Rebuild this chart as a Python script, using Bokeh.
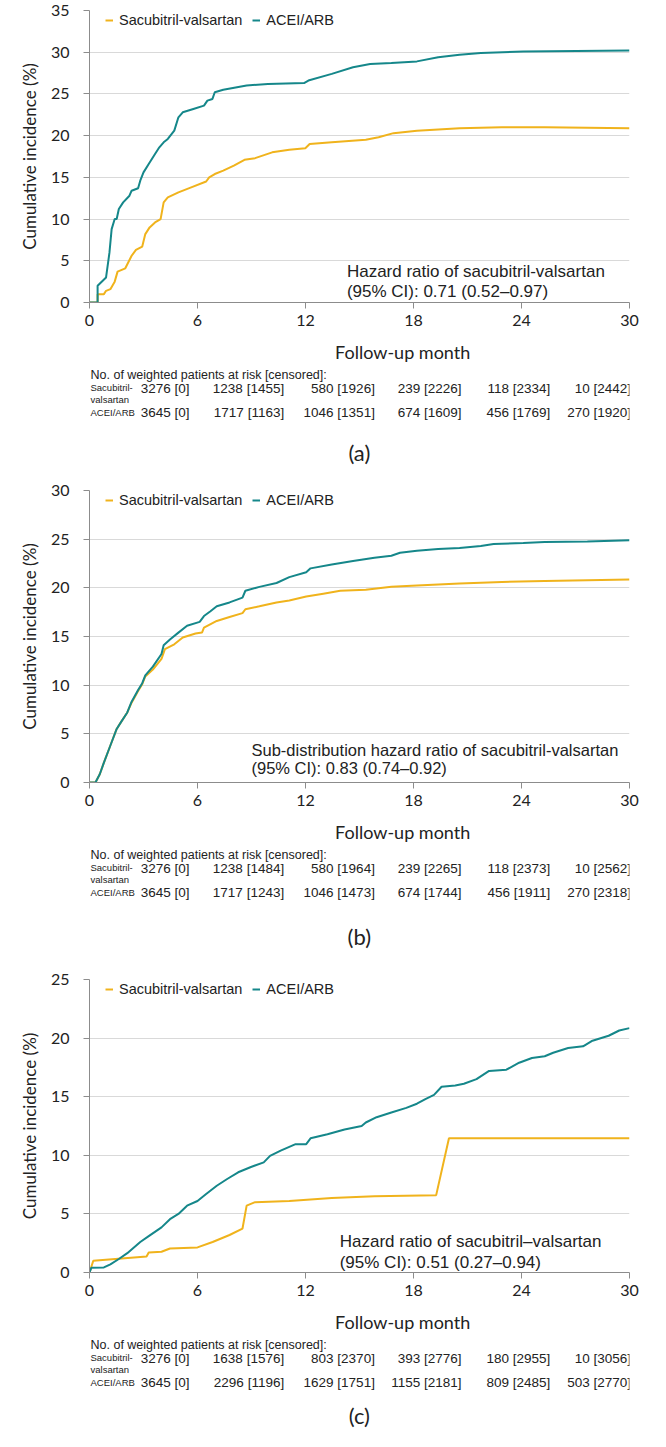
from bokeh.plotting import figure
from bokeh.models import Range1d, FixedTicker, Label, Legend, LegendItem, ColumnDataSource
from bokeh.layouts import column
from bokeh.embed import file_html
from bokeh.resources import INLINE
from bokeh.core.properties import value

# ---------------- data ----------------
months = [0, 6, 12, 18, 24, 30]

# panel (a)
a_sac_x = [0, 0.45, 0.45, 0.8, 0.92, 1.16, 1.40, 1.56, 1.99, 2.15, 2.34, 2.58, 2.93, 3.10, 3.34, 3.64,
           3.95, 4.12, 4.35, 4.94, 5.65, 6.48, 6.65, 6.96, 7.43, 8.02, 8.61, 9.20, 10.15, 11.1, 11.99,
           12.23, 13.46, 15.35, 16.06, 16.89, 18.19, 20.56, 22.9, 25.3, 30]
a_sac_y = [0, 0, 1.0, 1.0, 1.4, 1.6, 2.5, 3.7, 4.1, 4.8, 5.6, 6.3, 6.7, 8.2, 9.0, 9.6,
           10.0, 12.0, 12.6, 13.2, 13.8, 14.5, 15.0, 15.4, 15.8, 16.4, 17.1, 17.3, 18.0, 18.3, 18.5,
           19.0, 19.2, 19.5, 19.8, 20.3, 20.6, 20.9, 21.0, 21.0, 20.9]
a_ace_x = [0, 0.45, 0.45, 0.92, 1.11, 1.23, 1.40, 1.51, 1.63, 1.87, 2.22, 2.34, 2.70, 2.82, 3.0, 3.29,
           3.64, 3.88, 4.12, 4.35, 4.71, 4.94, 5.18, 5.77, 6.36, 6.55, 6.83, 6.96, 7.43, 8.73, 9.91,
           11.92, 12.16, 13.46, 14.64, 15.59, 16.77, 18.19, 19.37, 20.56, 21.74, 24.1, 30]
a_ace_y = [0, 0, 2.0, 3.0, 6.0, 8.8, 10.0, 10.0, 11.2, 12.0, 12.8, 13.4, 13.7, 14.6, 15.6, 16.6,
           17.8, 18.6, 19.2, 19.6, 20.6, 22.2, 22.8, 23.2, 23.6, 24.2, 24.4, 25.2, 25.5, 26.0, 26.2,
           26.3, 26.6, 27.4, 28.2, 28.6, 28.7, 28.9, 29.4, 29.7, 29.9, 30.1, 30.2]

# panel (b)
b_sac_x = [0, 0.33, 0.57, 0.80, 1.16, 1.51, 1.75, 2.10, 2.34, 2.70, 2.93, 3.10, 3.52, 4.0, 4.19, 4.71,
           5.18, 5.89, 6.25, 6.36, 7.07, 7.78, 8.50, 8.66, 9.44, 10.39, 11.1, 12.04, 12.99, 13.93,
           15.35, 16.77, 18.19, 20.56, 22.92, 25.29, 30]
b_sac_y = [0, 0, 0.85, 2.05, 3.8, 5.5, 6.2, 7.2, 8.2, 9.4, 10.1, 10.9, 11.6, 12.7, 13.7, 14.2,
           14.9, 15.3, 15.4, 15.9, 16.6, 17.0, 17.4, 17.8, 18.1, 18.5, 18.7, 19.1, 19.4, 19.7,
           19.8, 20.1, 20.25, 20.45, 20.6, 20.7, 20.85]
b_ace_x = [0, 0.33, 0.57, 0.80, 1.16, 1.51, 1.75, 2.10, 2.34, 2.70, 2.93, 3.10, 3.52, 4.0, 4.12, 4.47,
           4.94, 5.42, 6.12, 6.36, 6.72, 7.07, 7.78, 8.50, 8.66, 9.44, 10.39, 11.1, 12.04, 12.28,
           13.46, 14.64, 15.83, 16.77, 17.25, 18.19, 19.37, 20.56, 21.74, 22.45, 24.1, 25.29, 27.66, 30]
b_ace_y = [0, 0, 0.85, 2.05, 3.8, 5.5, 6.2, 7.2, 8.3, 9.5, 10.2, 11.0, 11.9, 13.2, 14.1, 14.7,
           15.4, 16.1, 16.5, 17.1, 17.6, 18.1, 18.5, 19.0, 19.7, 20.1, 20.5, 21.1, 21.6, 22.0,
           22.4, 22.75, 23.1, 23.3, 23.6, 23.8, 24.0, 24.1, 24.3, 24.5, 24.6, 24.7, 24.75, 24.9]

# panel (c)
c_sac_x = [0, 0.21, 3.17, 3.29, 4.0, 4.47, 6.0, 6.84, 7.78, 8.50, 8.73, 9.20, 11.1, 13.46, 15.83,
           19.26, 19.97, 30]
c_sac_y = [0, 1.0, 1.37, 1.7, 1.77, 2.05, 2.14, 2.6, 3.2, 3.75, 5.7, 6.0, 6.1, 6.35, 6.5,
           6.6, 11.45, 11.45]
c_ace_x = [0, 0.1, 0.8, 1.16, 1.63, 2.10, 2.82, 3.29, 4.0, 4.47, 4.94, 5.42, 6.0, 6.48, 7.07, 7.67,
           8.26, 8.97, 9.68, 10.03, 10.62, 11.45, 12.04, 12.28, 13.22, 14.17, 15.12, 15.35, 15.95,
           16.77, 17.6, 18.19, 18.66, 19.14, 19.56, 20.32, 20.8, 21.5, 22.2, 23.16, 23.87, 24.58,
           25.29, 25.76, 26.59, 27.42, 27.9, 28.84, 29.43, 30]
c_ace_y = [0, 0.4, 0.43, 0.7, 1.15, 1.65, 2.6, 3.1, 3.85, 4.55, 5.0, 5.7, 6.1, 6.7, 7.4, 8.0,
           8.55, 9.0, 9.4, 9.95, 10.4, 10.95, 10.95, 11.45, 11.8, 12.2, 12.5, 12.8, 13.25,
           13.65, 14.05, 14.4, 14.8, 15.15, 15.85, 15.95, 16.1, 16.5, 17.2, 17.3, 17.9, 18.3,
           18.45, 18.75, 19.15, 19.3, 19.75, 20.2, 20.65, 20.85]

# numbers at risk [censored]
a_sac_risk = ["3276 [0]", "1238 [1455]", "580 [1926]", "239 [2226]", "118 [2334]", "10 [2442]"]
a_ace_risk = ["3645 [0]", "1717 [1163]", "1046 [1351]", "674 [1609]", "456 [1769]", "270 [1920]"]
b_sac_risk = ["3276 [0]", "1238 [1484]", "580 [1964]", "239 [2265]", "118 [2373]", "10 [2562]"]
b_ace_risk = ["3645 [0]", "1717 [1243]", "1046 [1473]", "674 [1744]", "456 [1911]", "270 [2318]"]
c_sac_risk = ["3276 [0]", "1638 [1576]", "803 [2370]", "393 [2776]", "180 [2955]", "10 [3056]"]
c_ace_risk = ["3645 [0]", "2296 [1196]", "1629 [1751]", "1155 [2181]", "809 [2485]", "503 [2770]"]

a_hr = ["Hazard ratio of sacubitril-valsartan", "(95% CI): 0.71 (0.52\u20130.97)"]
b_hr = ["Sub-distribution hazard ratio of sacubitril-valsartan", "(95% CI): 0.83 (0.74\u20130.92)"]
c_hr = ["Hazard ratio of sacubitril\u2013valsartan", "(95% CI): 0.51 (0.27\u20130.94)"]

# ---------------- style ----------------
W = 650
LEFT = 89
PXM = 18.0  # pixels per month in frame
ORANGE = "#F0B31C"
TEAL = "#15878A"
TXT = "#222222"
AXC = "#8C8C8C"
GRID = "#D9D9D9"
CAL = "Lato"
ARI = "Liberation Sans"
col_off = [26, 31, 32, 29, 28, 19]
BOTTOM = 35


def main_fig(top, frame_h, ymax, sx, sy, ax, ay, hr, hr_x, hr_y, hr_size):
    p = figure(width=W, height=top + frame_h + BOTTOM, output_backend="svg",
               toolbar_location=None,
               x_range=Range1d(0, 30), y_range=Range1d(0, ymax),
               min_border_left=LEFT, min_border_right=W - LEFT - 540,
               min_border_top=top, min_border_bottom=BOTTOM)
    p.outline_line_color = None
    p.background_fill_color = "white"
    p.xgrid.visible = False
    p.ygrid.grid_line_color = GRID
    p.ygrid.grid_line_width = 1
    p.xaxis.ticker = FixedTicker(ticks=months)
    p.yaxis.ticker = FixedTicker(ticks=list(range(0, ymax + 1, 5)))
    for axis in (p.xaxis, p.yaxis):
        axis.axis_line_color = AXC
        axis.major_tick_line_color = AXC
        axis.minor_tick_line_color = None
        axis.major_tick_in = 0
        axis.major_tick_out = 6
        axis.major_label_text_font = CAL
        axis.major_label_text_font_size = "16px"
        axis.major_label_text_color = TXT
    p.xaxis.major_label_standoff = 6
    p.yaxis.major_label_standoff = 14
    p.yaxis.axis_label = "Cumulative incidence (%)"
    p.yaxis.axis_label_text_font = CAL
    p.yaxis.axis_label_text_font_size = "17px"
    p.yaxis.axis_label_text_font_style = "normal"
    p.yaxis.axis_label_text_color = TXT
    p.yaxis.axis_label_standoff = 8

    r1 = p.line(sx, sy, line_color=ORANGE, line_width=2)
    r2 = p.line(ax, ay, line_color=TEAL, line_width=2)
    leg = Legend(items=[LegendItem(label="Sacubitril-valsartan", renderers=[r1]),
                        LegendItem(label="ACEI/ARB", renderers=[r2])],
                 orientation="horizontal", location=(16, frame_h - 18),
                 border_line_color=None, background_fill_alpha=0,
                 label_text_font=ARI, label_text_font_size="14.5px", label_text_color=TXT,
                 glyph_width=8, glyph_height=16, label_height=16, label_standoff=6,
                 spacing=10, padding=0, margin=0)
    p.add_layout(leg)
    for txt, yy in zip(hr, hr_y):
        p.add_layout(Label(x=hr_x, y=yy, text=txt, text_font=ARI, text_font_size=hr_size,
                           text_color=TXT, text_baseline="middle", text_align="left"))
    return p


def table_fig(height, sac, ace, label, label_y):
    x0 = -LEFT / PXM
    t = figure(width=W, height=height, output_backend="svg", toolbar_location=None,
               x_range=Range1d(x0, (W - LEFT) / PXM), y_range=Range1d(height, 0),
               x_axis_location=None, y_axis_location=None,
               min_border=0, min_border_left=0, min_border_right=0,
               min_border_top=0, min_border_bottom=0)
    t.outline_line_color = None
    t.grid.visible = False
    # axis title
    t.text(x=[16.0], y=[14], text=["Follow-up month"], text_font=value(CAL),
           text_font_size="18px", text_align="center", text_baseline="middle", text_color=TXT)
    # header and row labels
    t.text(x=[x0], y=[37], text=["No. of weighted patients at risk [censored]:"],
           text_font=value(ARI), text_font_size="12.5px", text_align="left",
           text_baseline="middle", text_color=TXT, x_offset=1)
    t.text(x=[x0, x0, x0], y=[50, 62, 75], text=["Sacubitril-", "valsartan", "ACEI/ARB"],
           text_font=value(ARI), text_font_size="9.5px", text_align="left",
           text_baseline="middle", text_color=TXT, x_offset=1)
    src1 = ColumnDataSource(dict(x=months, y=[51] * 6, t=sac, o=col_off))
    src2 = ColumnDataSource(dict(x=months, y=[75] * 6, t=ace, o=col_off))
    for src in (src1, src2):
        t.text(x="x", y="y", text="t", x_offset="o", source=src, text_font=value(ARI),
               text_font_size="13.5px", text_align="right", text_baseline="middle",
               text_color=TXT)
    t.text(x=[13.1], y=[label_y], text=[label], text_font=value(CAL), text_font_size="22px",
           text_align="center", text_baseline="middle", text_color=TXT)
    return t


pa = main_fig(10, 292, 35, a_sac_x, a_sac_y, a_ace_x, a_ace_y, a_hr, 14.3, [3.72, 1.32], "17px")
ta = table_fig(141, a_sac_risk, a_ace_risk, "(a)", 115)
pb = main_fig(12, 292, 30, b_sac_x, b_sac_y, b_ace_x, b_ace_y, b_hr, 9.0, [3.39, 1.44], "16.5px")
tb = table_fig(150, b_sac_risk, b_ace_risk, "(b)", 119)
pc = main_fig(12, 293, 25, c_sac_x, c_sac_y, c_ace_x, c_ace_y, c_hr, 13.9, [2.65, 0.85], "17px")
tc = table_fig(124, c_sac_risk, c_ace_risk, "(c)", 108)

layout = column(pa, ta, pb, tb, pc, tc, spacing=0)
open("out.html", "w").write(file_html(layout, INLINE))
